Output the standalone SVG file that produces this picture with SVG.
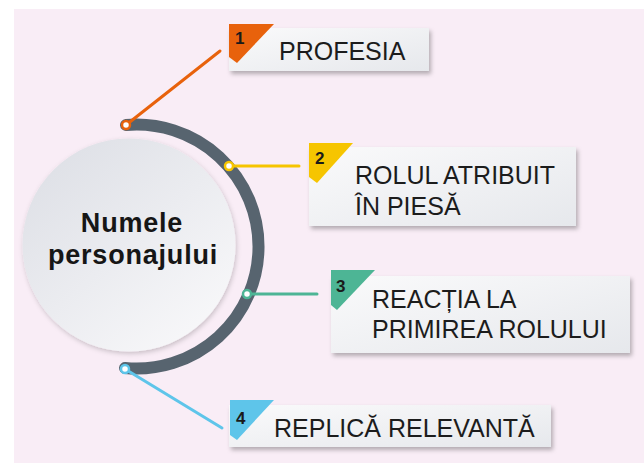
<svg xmlns="http://www.w3.org/2000/svg" width="644" height="463" viewBox="0 0 644 463">
<defs>
<linearGradient id="boxg" x1="0" y1="0" x2="1" y2="1">
<stop offset="0" stop-color="#fafafb"/>
<stop offset="1" stop-color="#e6e8ec"/>
</linearGradient>
<linearGradient id="circg" x1="0.15" y1="0.1" x2="0.85" y2="0.9">
<stop offset="0" stop-color="#dfe1e7"/>
<stop offset="1" stop-color="#f7f7f9"/>
</linearGradient>
<filter id="sh" x="-10%" y="-20%" width="125%" height="150%">
<feDropShadow dx="2" dy="3" stdDeviation="2" flood-color="#000" flood-opacity="0.28"/>
</filter>
<filter id="csh" x="-10%" y="-10%" width="125%" height="125%">
<feDropShadow dx="1" dy="2" stdDeviation="2.5" flood-color="#000" flood-opacity="0.2"/>
</filter>
</defs>
<style>
.box{fill:url(#boxg);filter:url(#sh)}
.lbl{font-family:"Liberation Sans",Arial,sans-serif;font-size:25px;fill:#1c1c1c}
.num{font-family:"Liberation Sans",Arial,sans-serif;font-size:17px;font-weight:bold;fill:#1a1a1a}
.ctr{font-family:"Liberation Sans",Arial,sans-serif;font-size:27px;font-weight:bold;fill:#161616;letter-spacing:0.8px}
.dot{fill:#ffffff;stroke-width:2.5}
.ln{stroke-width:3;fill:none;stroke-linecap:round}
</style>
<rect x="14" y="9" width="630" height="454" fill="#f9edf6"/>

<g id="center">
<circle cx="129" cy="245" r="106.5" fill="url(#circg)" filter="url(#csh)"/>
<text class="ctr" x="132" y="232" text-anchor="middle">Numele</text>
<text class="ctr" x="133" y="264" text-anchor="middle">personajului</text>
</g>

<g id="arc">
<path d="M126,125 A122,122 0 1 1 125,368" fill="none" stroke="#57646f" stroke-width="12" stroke-linecap="round"/>
</g>

<g id="connectors">
<line class="ln" x1="126" y1="125" x2="220" y2="51" stroke="#e8620c"/>
<line class="ln" x1="229" y1="166" x2="299" y2="166" stroke="#f6c500"/>
<line class="ln" x1="247" y1="294" x2="317" y2="294" stroke="#4db595"/>
<line class="ln" x1="125" y1="369" x2="222" y2="428" stroke="#5ec5ea"/>
<circle class="dot" cx="126" cy="125" r="4" stroke="#e8620c"/>
<circle class="dot" cx="229" cy="166" r="4" stroke="#f6c500"/>
<circle class="dot" cx="247" cy="294" r="4" stroke="#4db595"/>
<circle class="dot" cx="125" cy="369" r="4" stroke="#5ec5ea"/>
</g>

<g id="node1">
<rect class="box" x="229" y="28" width="200" height="43"/>
<polygon points="229,24 274,24 237,63 229,57" fill="#e8620c"/>
<text class="num" x="235" y="44">1</text>
<text class="lbl" x="279" y="60">PROFESIA</text>
</g>

<g id="node2">
<rect class="box" x="309" y="147" width="267" height="79"/>
<polygon points="309,143 353,143 317,183 309,177" fill="#f6c500"/>
<text class="num" x="315" y="164">2</text>
<text class="lbl" x="355" y="184">ROLUL ATRIBUIT</text>
<text class="lbl" x="355" y="215">ÎN PIESĂ</text>
</g>

<g id="node3">
<rect class="box" x="331" y="276" width="299" height="77"/>
<polygon points="331,270 375,270 337,310 331,305" fill="#4db595"/>
<text class="num" x="336" y="292">3</text>
<text class="lbl" x="372" y="308">REACȚIA LA</text>
<text class="lbl" x="372" y="338">PRIMIREA ROLULUI</text>
</g>

<g id="node4">
<rect class="box" x="229" y="405" width="322" height="42"/>
<polygon points="230,400 274,400 237,440 230,435" fill="#5ec5ea"/>
<text class="num" x="236" y="424">4</text>
<text class="lbl" x="274" y="437" font-size="24">REPLICĂ RELEVANTĂ</text>
</g>
</svg>
